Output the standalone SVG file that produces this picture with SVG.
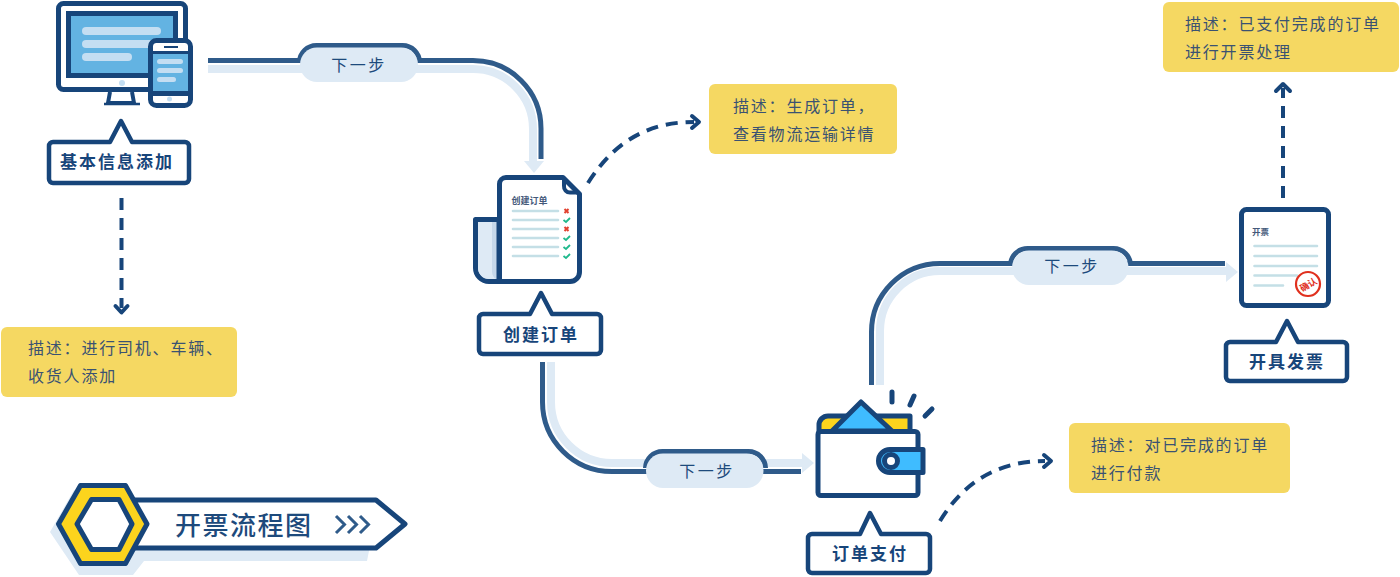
<svg xmlns="http://www.w3.org/2000/svg" width="1400" height="577" viewBox="0 0 1400 577">
<style>
text{font-family:"Noto Sans CJK SC","Noto Sans",sans-serif}
.d{fill:none;stroke:#2f5b8a;stroke-width:5}
.l{fill:none;stroke:#deeaf5;stroke-width:8}
.af{fill:#deeaf5}
.pt{font-size:16px;letter-spacing:2.5px;fill:#1d4a7c;text-anchor:middle}
.y{fill:#f5d862}
.ds{font-size:16px;letter-spacing:1.8px;fill:#3a5272}
.lb{fill:#fff;stroke:#17457a;stroke-width:4.5;stroke-linejoin:round}
.lt{font-size:17px;font-weight:700;letter-spacing:2px;fill:#17457a;text-anchor:middle}
.dash{fill:none;stroke:#17457a;stroke-width:4;stroke-dasharray:12 8}
.ah{fill:none;stroke:#17457a;stroke-width:4;stroke-linecap:round;stroke-linejoin:round}
.o{stroke:#17457a;stroke-width:5;stroke-linejoin:round}
.ln{stroke:#c4dfe6;stroke-width:2.6;stroke-linecap:round}
.ck{fill:none;stroke:#1fb98c;stroke-width:1.8}
.xx{fill:none;stroke:#e2412f;stroke-width:2}
</style>
<g id="connectors">
<path class="l" d="M208 69H473A60 60 0 0 1 533 129V162"/><path class="af" d="M524 161H544L534 173Z"/>
<path class="d" d="M208 60.500H473A68 68 0 0 1 541 128.500V159"/>
<path d="M299.500 62A17 17 0 0 1 316.500 45.500H402.500A17 17 0 0 1 419.500 62" class="d"/>
<rect class="af" x="300" y="47.500" width="118" height="34.500" rx="17"/>
<text class="pt" x="359" y="71">下一步</text>

<path class="l" d="M551 362V402A61 61 0 0 0 612 463H804"/><path class="af" d="M802 453L814 463L802 473Z"/>
<path class="d" d="M542.500 362V402A69.500 69.500 0 0 0 612 471.500H801"/>
<path class="d" d="M645.500 468A17 17 0 0 1 662.500 451.500H748.500A17 17 0 0 1 765.500 468"/>
<rect class="af" x="646" y="453.500" width="117.500" height="34.500" rx="17"/>
<text class="pt" x="707" y="477">下一步</text>

<path class="l" d="M880 385V331A60 60 0 0 1 940 271H1228"/><path class="af" d="M1226 262L1238 272L1226 282Z"/>
<path class="d" d="M871.500 385V332A68.500 68.500 0 0 1 940 263.500H1225"/>
<path class="d" d="M1010.500 265A17 17 0 0 1 1027.500 248.500H1113.500A17 17 0 0 1 1130.500 265"/>
<rect class="af" x="1012" y="250.500" width="116.500" height="34.500" rx="17"/>
<text class="pt" x="1072" y="272">下一步</text>

<path class="dash" d="M121.500 198V308"/><path class="ah" d="M115.500 306L121.500 312.500L127.500 306"/>
<path class="dash" d="M588 183C615 140 650 122 694 122"/><path class="ah" d="M692 116L699 122L692 128"/>
<path class="dash" d="M940 521C965 480 1000 461 1045 461"/><path class="ah" d="M1044 455L1051 461L1044 467"/>
<path class="dash" d="M1283 198V88"/><path class="ah" d="M1276 91L1283 84L1290 91"/>
</g>

<g id="note1"><rect class="y" x="709" y="84" width="188" height="70" rx="6"/><text class="ds" x="733" y="112">描述：生成订单，</text><text class="ds" x="733" y="140">查看物流运输详情</text></g>
<g id="note2"><rect class="y" x="1" y="327" width="236" height="70" rx="6"/><text class="ds" x="28" y="354">描述：进行司机、车辆、</text><text class="ds" x="28" y="381.500">收货人添加</text></g>
<g id="note3"><rect class="y" x="1069" y="423" width="221" height="70" rx="6"/><text class="ds" x="1091" y="451">描述：对已完成的订单</text><text class="ds" x="1091" y="479">进行付款</text></g>
<g id="note4"><rect class="y" x="1163" y="2" width="236" height="70" rx="6"/><text class="ds" x="1185" y="30">描述：已支付完成的订单</text><text class="ds" x="1185" y="57.500">进行开票处理</text></g>

<g id="node-basic">
<rect class="o" x="58.500" y="3.500" width="127" height="86" rx="5" fill="#fff"/>
<rect x="66" y="11" width="112" height="67" fill="#17457a"/>
<rect x="71" y="16" width="102" height="57" fill="#63b3e2"/>
<rect x="82" y="27" width="79" height="8" rx="4" fill="#c4def2"/><rect x="82" y="40" width="79" height="8" rx="4" fill="#c4def2"/><rect x="82" y="53" width="50" height="8" rx="4" fill="#c4def2"/>
<circle cx="122" cy="83" r="3" fill="#c4def2"/>
<path d="M110 92L108 103H134L132 92" fill="#fff" stroke="#17457a" stroke-width="4"/><path d="M104 104H140" stroke="#17457a" stroke-width="2.500"/>
<rect class="o" x="150.500" y="40.500" width="40" height="65" rx="6" fill="#fff"/>
<rect x="153" y="51" width="35" height="45" fill="#17457a"/><rect x="153" y="54" width="35" height="37" fill="#63b3e2"/>
<rect x="157" y="59" width="26" height="5" rx="2.500" fill="#c4def2"/><rect x="157" y="68" width="26" height="5" rx="2.500" fill="#c4def2"/><rect x="157" y="77" width="19" height="5" rx="2.500" fill="#c4def2"/>
<rect x="164" y="46" width="14" height="2" fill="#17457a"/>
<circle cx="169.500" cy="99" r="2.500" fill="#c4def2"/>
<path class="lb" d="M53 142H110L121 121L132 142H185A4 4 0 0 1 189 146V179A4 4 0 0 1 185 183H53A4 4 0 0 1 49 179V146A4 4 0 0 1 53 142Z"/>
<text class="lt" x="117" y="168">基本信息添加</text>
</g>

<g id="node-create">
<path class="o" d="M475.500 219.500H499V281.500H489A13.500 13.500 0 0 1 475.500 268Z" fill="#c6d8ea"/>
<path d="M478 222H492V272C492 275 494 278 496 279H489A11 11 0 0 1 478 268Z" fill="#deeaf5"/>
<path class="o" d="M506 177.500H563L579.500 194V272A9.500 9.500 0 0 1 570 281.500H499.500V184A6.500 6.500 0 0 1 506 177.500Z" fill="#fff"/>
<path d="M564 179V186A6 6 0 0 0 570 192.500H578" fill="none" stroke="#17457a" stroke-width="4"/>
<text x="511.500" y="203.500" font-size="9" font-weight="700" fill="#44597a">创建订单</text>
<path class="ln" d="M513 211H558M513 220H558M513 229H558M513 238H558M513 247H558M513 256H558"/>
<path class="xx" d="M564.500 209L568.500 213M568.500 209L564.500 213M564.500 227L568.500 231M568.500 227L564.500 231"/>
<path class="ck" d="M563.500 220L566 222L570 218M563.500 238L566 240L570 236M563.500 247L566 249L570 245M563.500 256L566 258L570 254"/>
<path class="lb" d="M483 314H530L541 293L552 314H597A4 4 0 0 1 601 318V350A4 4 0 0 1 597 354H483A4 4 0 0 1 479 350V318A4 4 0 0 1 483 314Z"/>
<text class="lt" x="541" y="341">创建订单</text>
</g>

<g id="node-pay">
<path class="o" d="M819 432V425A9 9 0 0 1 828 416H910V432Z" fill="#fcd41d"/>
<path class="o" d="M832 431L861 402L892 431Z" fill="#3fbcff"/>
<rect class="o" x="818" y="431.500" width="100" height="64" rx="3" fill="#fff"/>
<path class="o" d="M923 449.500H890A11.500 11.500 0 0 0 890 472.500H923Z" fill="#3fbcff"/>
<circle cx="891" cy="461" r="6.500" fill="#fff" stroke="#17457a" stroke-width="5"/>
<path d="M892 392V402M914 396L910 405M932 409L925 416" fill="none" stroke="#17457a" stroke-width="5" stroke-linecap="round"/>
<path class="lb" d="M812 534H860L870 513L881 534H926A4 4 0 0 1 930 538V569A4 4 0 0 1 926 573H812A4 4 0 0 1 808 569V538A4 4 0 0 1 812 534Z"/>
<text class="lt" x="870" y="560">订单支付</text>
</g>

<g id="node-invoice">
<rect class="o" x="1241.500" y="209.500" width="87" height="96" rx="5" fill="#fff"/>
<text x="1252" y="235" font-size="8.500" font-weight="700" fill="#44597a">开票</text>
<path class="ln" d="M1254.500 246H1317M1254.500 256H1317M1254.500 266H1317M1254.500 275.500H1297M1254.500 285.500H1283"/>
<circle cx="1308" cy="284" r="12" fill="#fff" stroke="#e0301e" stroke-width="2.200"/>
<text x="1308" y="288" font-size="9" font-weight="700" fill="#e0301e" text-anchor="middle" transform="rotate(-30 1308 284)">确认</text>
<path class="lb" d="M1230 342H1276L1287 321L1298 342H1343A4 4 0 0 1 1347 346V377A4 4 0 0 1 1343 381H1230A4 4 0 0 1 1226 377V346A4 4 0 0 1 1230 342Z"/>
<text class="lt" x="1287" y="368">开具发票</text>
</g>

<g id="title">
<path d="M50 532L74 490H130L134 506H378L367 561H144L133 575H79Z" fill="#deeaf5"/>
<path d="M135 500H376L405 524L376 548H135Z" fill="#fff" stroke="#17457a" stroke-width="5" stroke-linejoin="round"/>
<path d="M58.500 524L80.500 485.500H125.500L147 524L125.500 563.500H80.500Z" fill="#fcd41d" stroke="#17457a" stroke-width="5" stroke-linejoin="round"/>
<path d="M77 524L91.500 499.500H119L132 524L119 549.500H91.500Z" fill="#fff" stroke="#17457a" stroke-width="5" stroke-linejoin="round"/>
<text x="175" y="535" font-size="26" font-weight="500" letter-spacing="1.500" fill="#1d4a7c">开票流程图</text>
<path d="M336 516L344.500 524.500L336 533M348 516L356.500 524.500L348 533M360 516L368.500 524.500L360 533" fill="none" stroke="#2f5b8a" stroke-width="3"/>
</g>
</svg>
